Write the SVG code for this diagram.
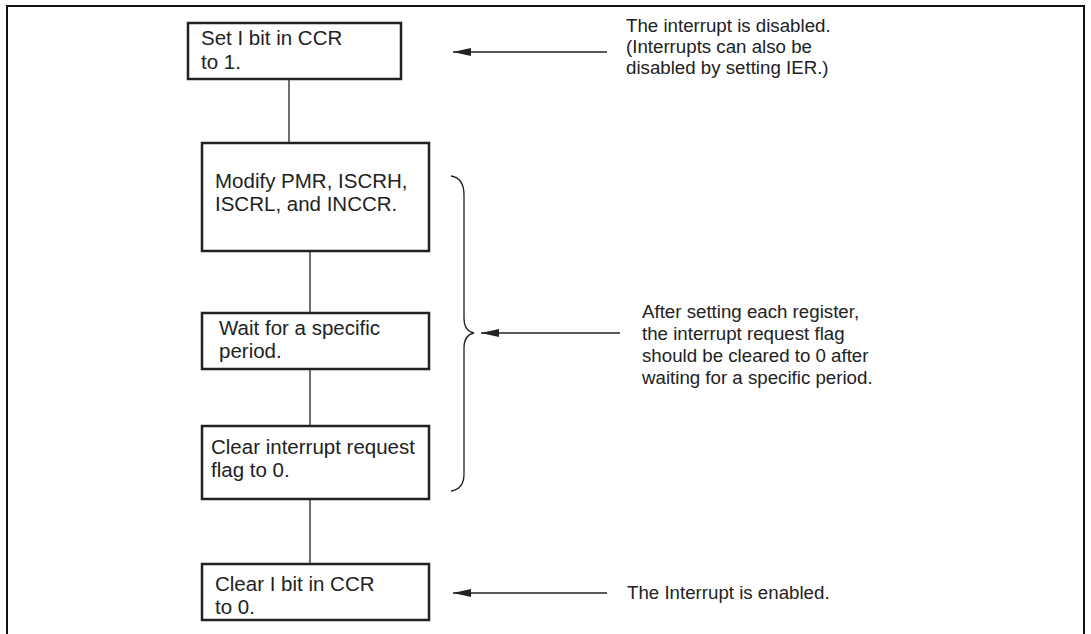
<svg xmlns="http://www.w3.org/2000/svg" width="1091" height="634" viewBox="0 0 1091 634">
<style>
.box{fill:#fff;stroke:#222;stroke-width:2.5}
.ln{fill:none;stroke:#222;stroke-width:1.3}
.t{font-family:"Liberation Sans",Arial,sans-serif;font-size:20.5px;fill:#222}
.r{font-family:"Liberation Sans",Arial,sans-serif;font-size:18.7px;fill:#222}
</style>
<defs>
<marker id="ah" markerWidth="18" markerHeight="10" refX="18" refY="5" orient="auto" markerUnits="userSpaceOnUse">
<path d="M0,1 L18,5 L0,9 Z" fill="#222"/>
</marker>
</defs>
<rect width="1091" height="634" fill="#fff"/>
<path d="M7,634 L7,6 L1084,6 L1084,634" fill="none" stroke="#111" stroke-width="2"/>
<g id="connectors">
<line class="ln" x1="289" y1="79" x2="289" y2="143"/>
<line class="ln" x1="310" y1="251" x2="310" y2="313"/>
<line class="ln" x1="310" y1="369" x2="310" y2="426"/>
<line class="ln" x1="310" y1="499" x2="310" y2="564"/>
<path class="ln" d="M451,176 Q464,178 464,195 L464,318 Q464,331 474,333 Q464,335 464,348 L464,474 Q464,489 451,491"/>
<line class="ln" x1="607" y1="52" x2="453" y2="52" marker-end="url(#ah)"/>
<line class="ln" x1="620" y1="333" x2="481" y2="333" marker-end="url(#ah)"/>
<line class="ln" x1="607" y1="593" x2="453" y2="593" marker-end="url(#ah)"/>
</g>
<g id="n1">
<rect class="box" x="188" y="23" width="213" height="56"/>
<text class="t" x="201" y="45">Set I bit in CCR</text>
<text class="t" x="201" y="69">to 1.</text>
</g>
<g id="n2">
<rect class="box" x="202" y="143" width="227" height="108"/>
<text class="t" x="215" y="188">Modify PMR, ISCRH,</text>
<text class="t" x="215" y="211">ISCRL, and INCCR.</text>
</g>
<g id="n3">
<rect class="box" x="202" y="313" width="227" height="56"/>
<text class="t" x="219" y="335">Wait for a specific</text>
<text class="t" x="219" y="358">period.</text>
</g>
<g id="n4">
<rect class="box" x="202" y="426" width="227" height="73"/>
<text class="t" x="211" y="454">Clear interrupt request</text>
<text class="t" x="211" y="477">flag to 0.</text>
</g>
<g id="n5">
<rect class="box" x="202" y="564" width="227" height="56"/>
<text class="t" x="215" y="591">Clear I bit in CCR</text>
<text class="t" x="215" y="614">to 0.</text>
</g>
<g id="note1">
<text class="r" x="626" y="32">The interrupt is disabled.</text>
<text class="r" x="626" y="53">(Interrupts can also be</text>
<text class="r" x="626" y="74">disabled by setting IER.)</text>
</g>
<g id="note2">
<text class="r" x="642" y="318">After setting each register,</text>
<text class="r" x="642" y="340">the interrupt request flag</text>
<text class="r" x="642" y="362">should be cleared to 0 after</text>
<text class="r" x="642" y="384">waiting for a specific period.</text>
</g>
<g id="note3">
<text class="r" x="627" y="599">The Interrupt is enabled.</text>
</g>
</svg>
